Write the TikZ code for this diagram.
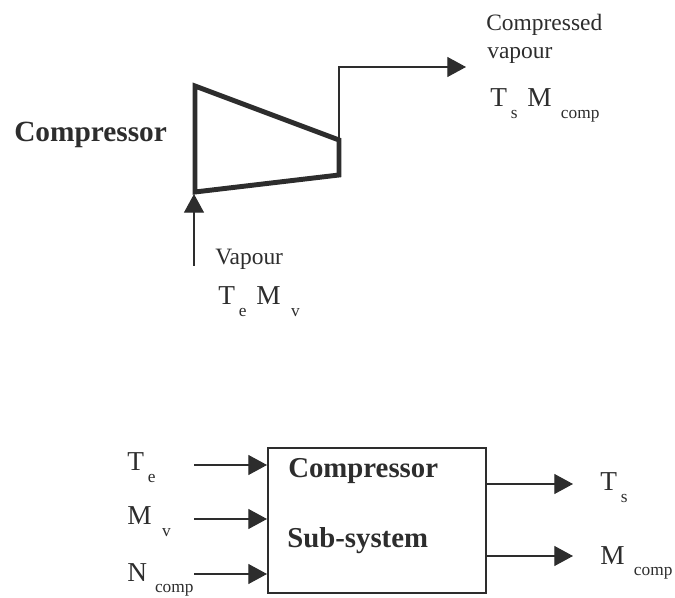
\documentclass[tikz,border=0pt]{standalone}
\usepackage{fontspec}
\setmainfont{Liberation Serif}
\usetikzlibrary{arrows.meta,positioning}
\definecolor{inkgrey}{RGB}{45,45,45}
\newcommand{\symsub}[3]{#1\kern#3pt\raisebox{-8.5pt}{\fontsize{13}{13}\selectfont #2}}
\tikzset{
  boldlabel/.style={anchor=base west, inner sep=0pt, text=inkgrey, font=\fontsize{21.6}{24}\selectfont\bfseries},
  textlabel/.style={anchor=base west, inner sep=0pt, text=inkgrey, font=\fontsize{17.6}{21}\selectfont},
  symlabel/.style={anchor=base west, inner sep=0pt, text=inkgrey, font=\fontsize{20.5}{24}\selectfont},
  subsystembox/.style={draw=inkgrey, line width=1.2pt, minimum width=163.5pt, minimum height=108.75pt, inner sep=0pt},
  flow/.style={-{Triangle[length=14pt, width=15pt]}, line width=0.85pt, draw=inkgrey},
  casing/.style={line width=3.7pt, draw=inkgrey, line join=miter}
}
\begin{document}
\begin{tikzpicture}[x=0.75pt, y=-0.75pt]
\useasboundingbox (0,0) rectangle (675,598);
% compressor
\coordinate (inlettop) at (195,86);
\coordinate (outlettop) at (339,140);
\coordinate (outletbot) at (339,175);
\coordinate (inletbot) at (195,192);
\draw[casing] (inlettop) -- (outlettop) -- (outletbot) -- (inletbot) -- cycle;
\coordinate (vapourin) at (194,266);
\coordinate (vapourtip) at (194,194);
\coordinate (vapourout) at (466,67);
\draw[flow] (vapourin) -- (vapourtip);
\draw[flow] (outlettop) |- (vapourout);
\node[boldlabel, font=\fontsize{22}{24}\selectfont\bfseries] (complabel) at (14,142) {Compressor};
\node[textlabel] (outlabel) at (486,31) {Compressed};
\node[textlabel] (outlabelb) at (487,59) {vapour};
\node[symlabel] (tslabel) at (490,107) {\symsub{T}{s}{3}};
\node[symlabel] (mcomplabel) at (527,107) {\symsub{M}{comp}{7}};
\node[textlabel] (inlabel) at (215,265) {Vapour};
\node[symlabel] (telabel) at (218,305) {\symsub{T}{e}{3}};
\node[symlabel] (mvlabel) at (256,305) {\symsub{M}{v}{8}};

% sub-system block
\node[subsystembox, anchor=north west] (block) at (267,447) {};
\node[boldlabel] (blockname) at (288,478) {Compressor};
\node[boldlabel] (blocknameb) at (287,547) {Sub-system};
\coordinate (tein) at (194,465);
\coordinate (mvin) at (194,519);
\coordinate (ncompin) at (194,574);
\coordinate (tsout) at (573,484);
\coordinate (mcompout) at (573,556);
\draw[flow] (tein) -- (tein -| block.west);
\draw[flow] (mvin) -- (mvin -| block.west);
\draw[flow] (ncompin) -- (ncompin -| block.west);
\draw[flow] (tsout -| block.east) -- (tsout);
\draw[flow] (mcompout -| block.east) -- (mcompout);
\node[symlabel] (telabelb) at (127,471) {\symsub{T}{e}{3}};
\node[symlabel] (mvlabelb) at (127,525) {\symsub{M}{v}{8}};
\node[symlabel] (ncomplabel) at (127,581) {\symsub{N}{comp}{6}};
\node[symlabel] (tslabelb) at (600,491) {\symsub{T}{s}{3}};
\node[symlabel] (mcomplabelb) at (600,564) {\symsub{M}{comp}{7}};
\end{tikzpicture}
\end{document}
